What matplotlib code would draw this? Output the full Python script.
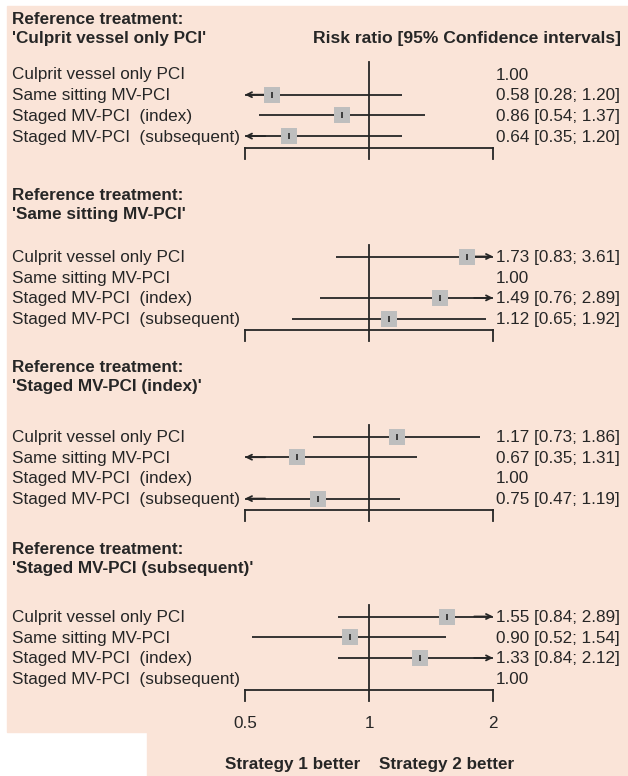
import numpy as np
import matplotlib.pyplot as plt
from matplotlib.patches import Rectangle
from matplotlib.transforms import Affine2D

plt.rcParams["font.family"] = ["Liberation Sans", "DejaVu Sans"]

# data (risk ratios with 95% CI)
treatments = ["Culprit vessel only PCI", "Same sitting MV-PCI",
              "Staged MV-PCI  (index)", "Staged MV-PCI  (subsequent)"]
references = ["'Culprit vessel only PCI'", "'Same sitting MV-PCI'",
              "'Staged MV-PCI (index)'", "'Staged MV-PCI (subsequent)'"]

rr_culprit = [1.00, 0.58, 0.86, 0.64]
lo_culprit = [np.nan, 0.28, 0.54, 0.35]
hi_culprit = [np.nan, 1.20, 1.37, 1.20]

rr_same = [1.73, 1.00, 1.49, 1.12]
lo_same = [0.83, np.nan, 0.76, 0.65]
hi_same = [3.61, np.nan, 2.89, 1.92]

rr_index = [1.17, 0.67, 1.00, 0.75]
lo_index = [0.73, 0.35, np.nan, 0.47]
hi_index = [1.86, 1.31, np.nan, 1.19]

rr_subseq = [1.55, 0.90, 1.33, 1.00]
lo_subseq = [0.84, 0.52, 0.84, np.nan]
hi_subseq = [2.89, 1.54, 2.12, np.nan]

panels = [(rr_culprit, lo_culprit, hi_culprit),
          (rr_same, lo_same, hi_same),
          (rr_index, lo_index, hi_index),
          (rr_subseq, lo_subseq, hi_subseq)]

xticks = [0.5, 1, 2]
xtick_labels = ["0.5", "1", "2"]

# layout (pixels from top)
W, H = 628, 776
title_y = [20, 195, 368, 549]
first_row = [74, 256.5, 436.5, 616.5]
row_gap = 20.7
BG = "#FAE4D8"
INK = "#262626"
FS = 12.3

fig = plt.figure(figsize=(W / 100, H / 100), dpi=100, facecolor="white")
px = Affine2D().scale(1 / W, -1 / H).translate(0, 1) + fig.transFigure

fig.add_artist(Rectangle((7 / W, 1 - 732 / H), (W - 7) / W, (732 - 6) / H,
                         transform=fig.transFigure, color=BG, zorder=-5))
fig.add_artist(Rectangle((147 / W, 0), (W - 147) / W, 1 - 731 / H,
                         transform=fig.transFigure, color=BG, zorder=-5))

ax = fig.add_axes([0, 0, 1, 1])
ax.axis("off")
ax.set_xscale("log")
step = (493 - 245) / 2
ax.set_xlim(0.5 * 2 ** (-245 / step), 2 * 2 ** ((W - 493) / step))
ax.set_ylim(H, 0)

lw = 1.3
for p, (rr, lo, hi) in enumerate(panels):
    ty = title_y[p]
    fig.text(12, ty, "Reference treatment:", transform=px, fontsize=FS,
             fontweight="bold", color=INK, va="center")
    fig.text(12, ty + 19, references[p], transform=px, fontsize=FS,
             fontweight="bold", color=INK, va="center")
    if p == 0:
        fig.text(621, ty + 19, "Risk ratio [95% Confidence intervals]", transform=px,
                 fontsize=12.6, fontweight="bold", color=INK, va="center", ha="right")

    rows = [first_row[p] + i * row_gap for i in range(len(treatments))]
    axis_y = rows[-1] + 11.5
    ax.plot([1, 1], [rows[0] - 12, axis_y + 11], color=INK, lw=lw)
    ax.plot([0.5, 2], [axis_y, axis_y], color=INK, lw=lw)
    for t in (0.5, 2):
        ax.plot([t, t], [axis_y, axis_y + 11], color=INK, lw=lw)

    for i, name in enumerate(treatments):
        y = rows[i]
        fig.text(12, y + 1, name, transform=px, fontsize=FS, color=INK, va="center")
        if np.isnan(lo[i]):
            label = f"{rr[i]:.2f}"
        else:
            label = f"{rr[i]:.2f} [{lo[i]:.2f}; {hi[i]:.2f}]"
        fig.text(496, y + 1, label, transform=px, fontsize=FS, color=INK, va="center")
        if np.isnan(lo[i]):
            continue
        a, b = max(lo[i], 0.5), min(hi[i], 2)
        ax.plot([a, b], [y, y], color=INK, lw=lw, solid_capstyle="butt")
        if lo[i] < 0.5:
            ax.annotate("", xy=(0.5, y), xytext=(0.56, y),
                        arrowprops=dict(arrowstyle="->", color=INK, lw=lw,
                                        shrinkA=0, shrinkB=0, mutation_scale=9))
        if hi[i] > 2:
            ax.annotate("", xy=(2, y), xytext=(1.8, y),
                        arrowprops=dict(arrowstyle="->", color=INK, lw=lw,
                                        shrinkA=0, shrinkB=0, mutation_scale=9))
        ax.plot(rr[i], y, marker="s", markersize=11.5, color="#BEBEBE",
                markeredgewidth=0, zorder=3)
        ax.plot(rr[i], y, marker="|", markersize=5, color=INK,
                markeredgewidth=1.2, zorder=4)

for t, lab in zip(xticks, xtick_labels):
    ax.text(t, 723, lab, fontsize=FS, color=INK, ha="center", va="center")

fig.text(293, 764, "Strategy 1 better", transform=px, fontsize=FS,
         fontweight="bold", color=INK, ha="center", va="center")
fig.text(447, 764, "Strategy 2 better", transform=px, fontsize=FS,
         fontweight="bold", color=INK, ha="center", va="center")

fig.savefig("out.png", dpi=100, facecolor="white")
